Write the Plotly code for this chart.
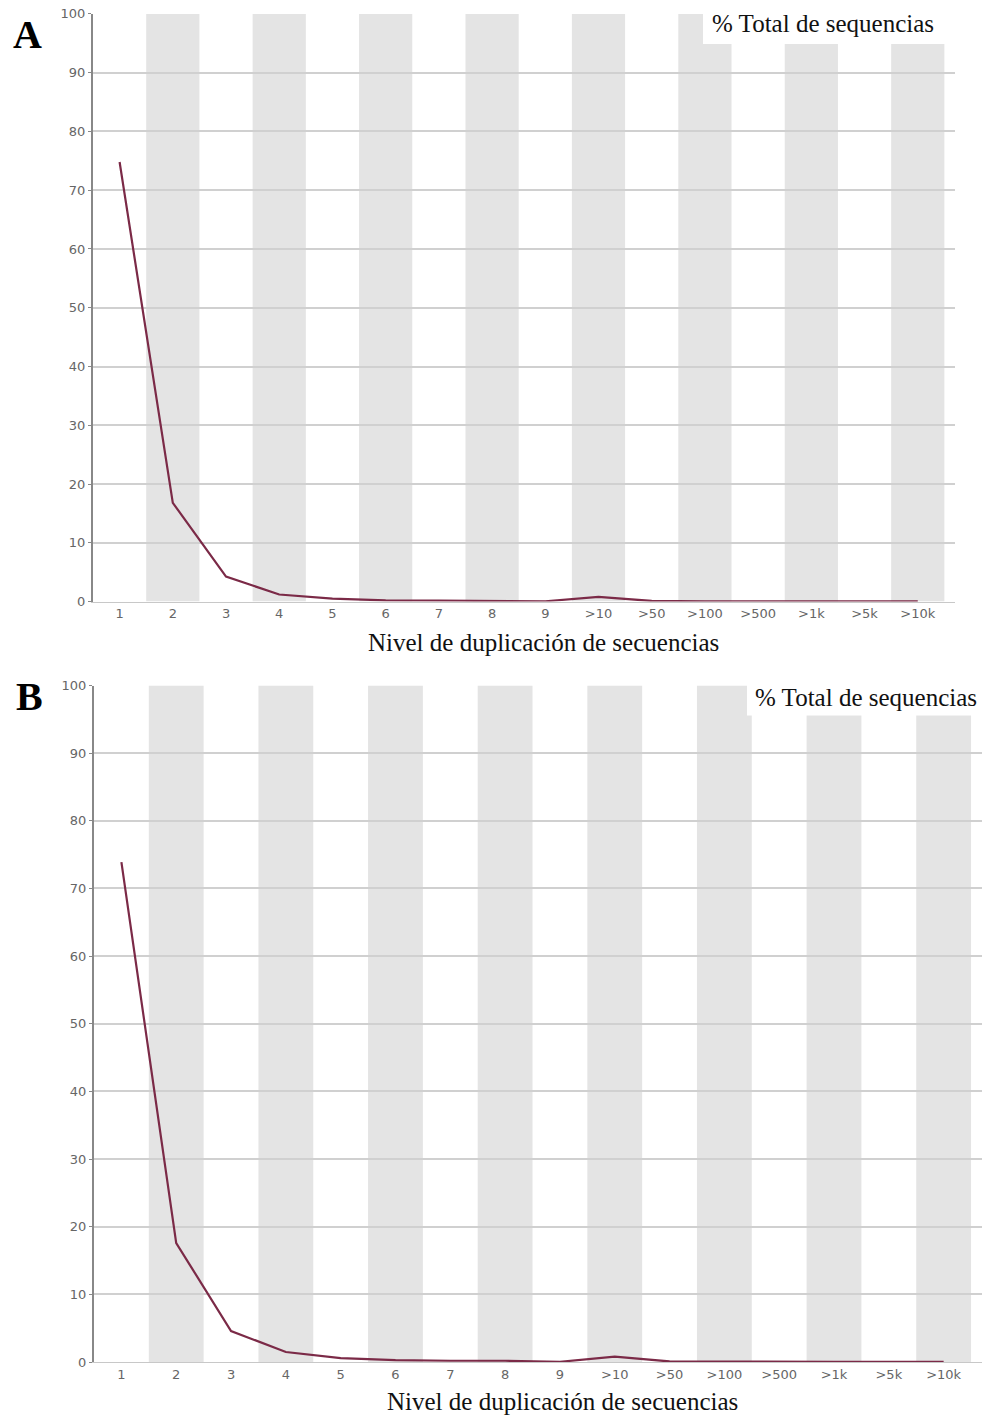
import plotly.graph_objects as go

categories = ["1", "2", "3", "4", "5", "6", "7", "8", "9", ">10", ">50", ">100", ">500", ">1k", ">5k", ">10k"]
values_a = [74.8, 16.8, 4.25, 1.2, 0.5, 0.2, 0.15, 0.15, 0.05, 0.8, 0.1, 0.05, 0.05, 0.05, 0.05, 0.05]
values_b = [73.9, 17.6, 4.6, 1.5, 0.6, 0.3, 0.2, 0.2, 0.05, 0.8, 0.1, 0.05, 0.05, 0.05, 0.05, 0.05]
y_ticks = [0, 10, 20, 30, 40, 50, 60, 70, 80, 90, 100]
panel_labels = ["A", "B"]
legend_text = "% Total de sequencias"
x_title = "Nivel de duplicación de secuencias"

W, H = 985, 1419
LINE = "#7b2a47"
BAND = "#e4e4e4"
GRID = "#d0d0d0"
SERIF = "Liberation Serif, Times New Roman, serif"
SANS = "DejaVu Sans, Verdana, sans-serif"
VSCALE = 0.99  # compensation for observed vertical rendering

def px_x(p):
    return p / W

def px_y(p):
    c = H / 2
    q = c + (p - c) / VSCALE
    return 1 - q / H

panels = [
    dict(vals=values_a, left=93, right=955, top=14, bottom=602, legend_x0=703, legend_bot=44,
         label_xy=(27, 35), title_xy=(543, 643), legend_xy=(823, 24)),
    dict(vals=values_b, left=94, right=982, top=686, bottom=1363, legend_x0=747, legend_bot=716,
         label_xy=(29, 697), title_xy=(562, 1402), legend_xy=(866, 698)),
]

fig = go.Figure()
shapes = []
annotations = []
idx = list(range(len(categories)))

for i, p in enumerate(panels):
    xa = "x" if i == 0 else "x2"
    ya = "y" if i == 0 else "y2"
    fig.add_trace(go.Scatter(x=idx, y=p["vals"], mode="lines",
                             line=dict(color=LINE, width=2.2),
                             xaxis=xa, yaxis=ya, showlegend=False, hoverinfo="skip"))
    for k in idx:
        if k % 2 == 1:
            shapes.append(dict(type="rect", xref=xa, yref=ya, x0=k - 0.5, x1=k + 0.5, y0=0, y1=100,
                               fillcolor=BAND, line=dict(width=0), layer="below"))
    shapes.append(dict(type="rect", xref="paper", yref="paper",
                       x0=px_x(p["legend_x0"]), x1=px_x(p["right"] + 1),
                       y0=px_y(p["legend_bot"]), y1=px_y(p["top"] - 1),
                       fillcolor="white", line=dict(width=0), layer="above"))
    annotations.append(dict(xref="paper", yref="paper", x=px_x(p["legend_xy"][0]), y=px_y(p["legend_xy"][1]),
                            text=legend_text, showarrow=False, xanchor="center", yanchor="middle",
                            font=dict(family=SERIF, size=25, color="#111")))
    annotations.append(dict(xref="paper", yref="paper", x=px_x(p["label_xy"][0]), y=px_y(p["label_xy"][1]),
                            text="<b>%s</b>" % panel_labels[i], showarrow=False, xanchor="center", yanchor="middle",
                            font=dict(family=SERIF, size=40, color="#000")))
    annotations.append(dict(xref="paper", yref="paper", x=px_x(p["title_xy"][0]), y=px_y(p["title_xy"][1]),
                            text=x_title, showarrow=False, xanchor="center", yanchor="middle",
                            font=dict(family=SERIF, size=25, color="#111")))

    xaxis = dict(domain=[px_x(p["left"]), px_x(p["right"])], range=[-0.5, 15.7],
                 tickmode="array", tickvals=idx, ticktext=categories,
                 showgrid=False, zeroline=False, showline=True, linecolor="#c8c8c8", linewidth=1,
                 ticks="", tickfont=dict(family=SANS, size=13, color="#666"), anchor=ya, fixedrange=True)
    yaxis = dict(domain=[px_y(p["bottom"]), px_y(p["top"])], range=[0, 100],
                 tickmode="array", tickvals=y_ticks, ticktext=[str(t) for t in y_ticks],
                 showgrid=True, gridcolor=GRID, gridwidth=2, zeroline=False,
                 showline=True, linecolor="#888", linewidth=2, ticks="outside", ticklen=3, tickcolor="#888",
                 tickfont=dict(family=SANS, size=13, color="#666"), anchor=xa, fixedrange=True)
    if i == 0:
        fig.update_layout(xaxis=xaxis, yaxis=yaxis)
    else:
        fig.update_layout(xaxis2=xaxis, yaxis2=yaxis)

fig.update_layout(width=W, height=H, margin=dict(l=0, r=0, t=0, b=0),
                  paper_bgcolor="white", plot_bgcolor="white",
                  shapes=shapes, annotations=annotations, showlegend=False)

fig.write_html("out.html", config=dict(displayModeBar=False))
